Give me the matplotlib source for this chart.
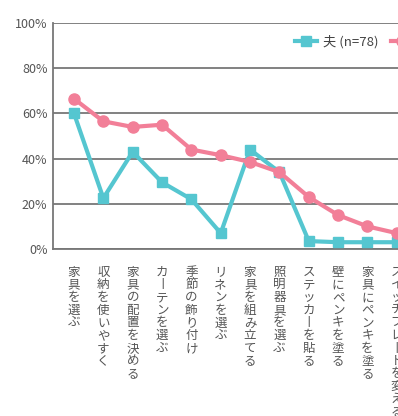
import matplotlib.pyplot as plt
import numpy as np

plt.rcParams['font.family'] = ['Noto Sans CJK JP', 'DejaVu Sans']

categories = ['家具を選ぶ', '収納を使いやすく', '家具の配置を決める', 'カーテンを選ぶ',
              '季節の飾り付け', 'リネンを選ぶ', '家具を組み立てる', '照明器具を選ぶ',
              'ステッカーを貼る', '壁にペンキを塗る', '家具にペンキを塗る',
              'スイッチプレートを変える']
husband = [60, 22.5, 43, 29.5, 22, 7, 44, 34, 3.5, 3, 3, 3]
wife = [66.5, 56.5, 54, 55, 44, 41.5, 38.5, 34, 23, 15, 10, 7]
yticks = [0, 20, 40, 60, 80, 100]

cyan = '#55C6D0'
pink = '#F27F98'
grey = '#555555'


def vertical(s):
    # tategaki: stack chars, long vowel mark becomes a vertical bar
    return '\n'.join(c if c != 'ー' else '丨' for c in s)


fig = plt.figure(figsize=(3.98, 4.16), dpi=100)
ax = fig.add_axes([53 / 398, 1 - 249 / 416, 1 - 53 / 398, 226 / 416])

x = np.arange(len(categories))
ax.plot(x, husband, color=cyan, lw=3.0, marker='s', ms=7.5, label='夫 (n=78)', zorder=3)
ax.plot(x, wife, color=pink, lw=3.0, marker='o', ms=8, label='妻 (n=78)', zorder=3)

ax.set_xlim(-0.715, 11.04)
ax.set_ylim(0, 100)
ax.set_yticks(yticks)
ax.set_yticklabels(['{}%'.format(v) for v in yticks], color=grey, fontsize=9)
ax.yaxis.grid(True, color='#777777', lw=1.3)
ax.set_axisbelow(True)
ax.tick_params(axis='y', length=0, pad=4)
ax.tick_params(axis='x', length=0, pad=12)
ax.set_xticks(x)
ax.set_xticklabels([vertical(c) for c in categories], color=grey, fontsize=9,
                   linespacing=0.97, va='top')
for s in ['top', 'right']:
    ax.spines[s].set_visible(False)
for s in ['left', 'bottom']:
    ax.spines[s].set_color('#777777')
    ax.spines[s].set_linewidth(1.3)

fig.legend(loc='upper left', bbox_to_anchor=(283 / 398, 1 - 23 / 416), ncol=2,
           frameon=False, fontsize=9.5, handlelength=1.7, handletextpad=0.4,
           columnspacing=1.0, labelcolor='#444444')

plt.savefig('out.png', dpi=100)
